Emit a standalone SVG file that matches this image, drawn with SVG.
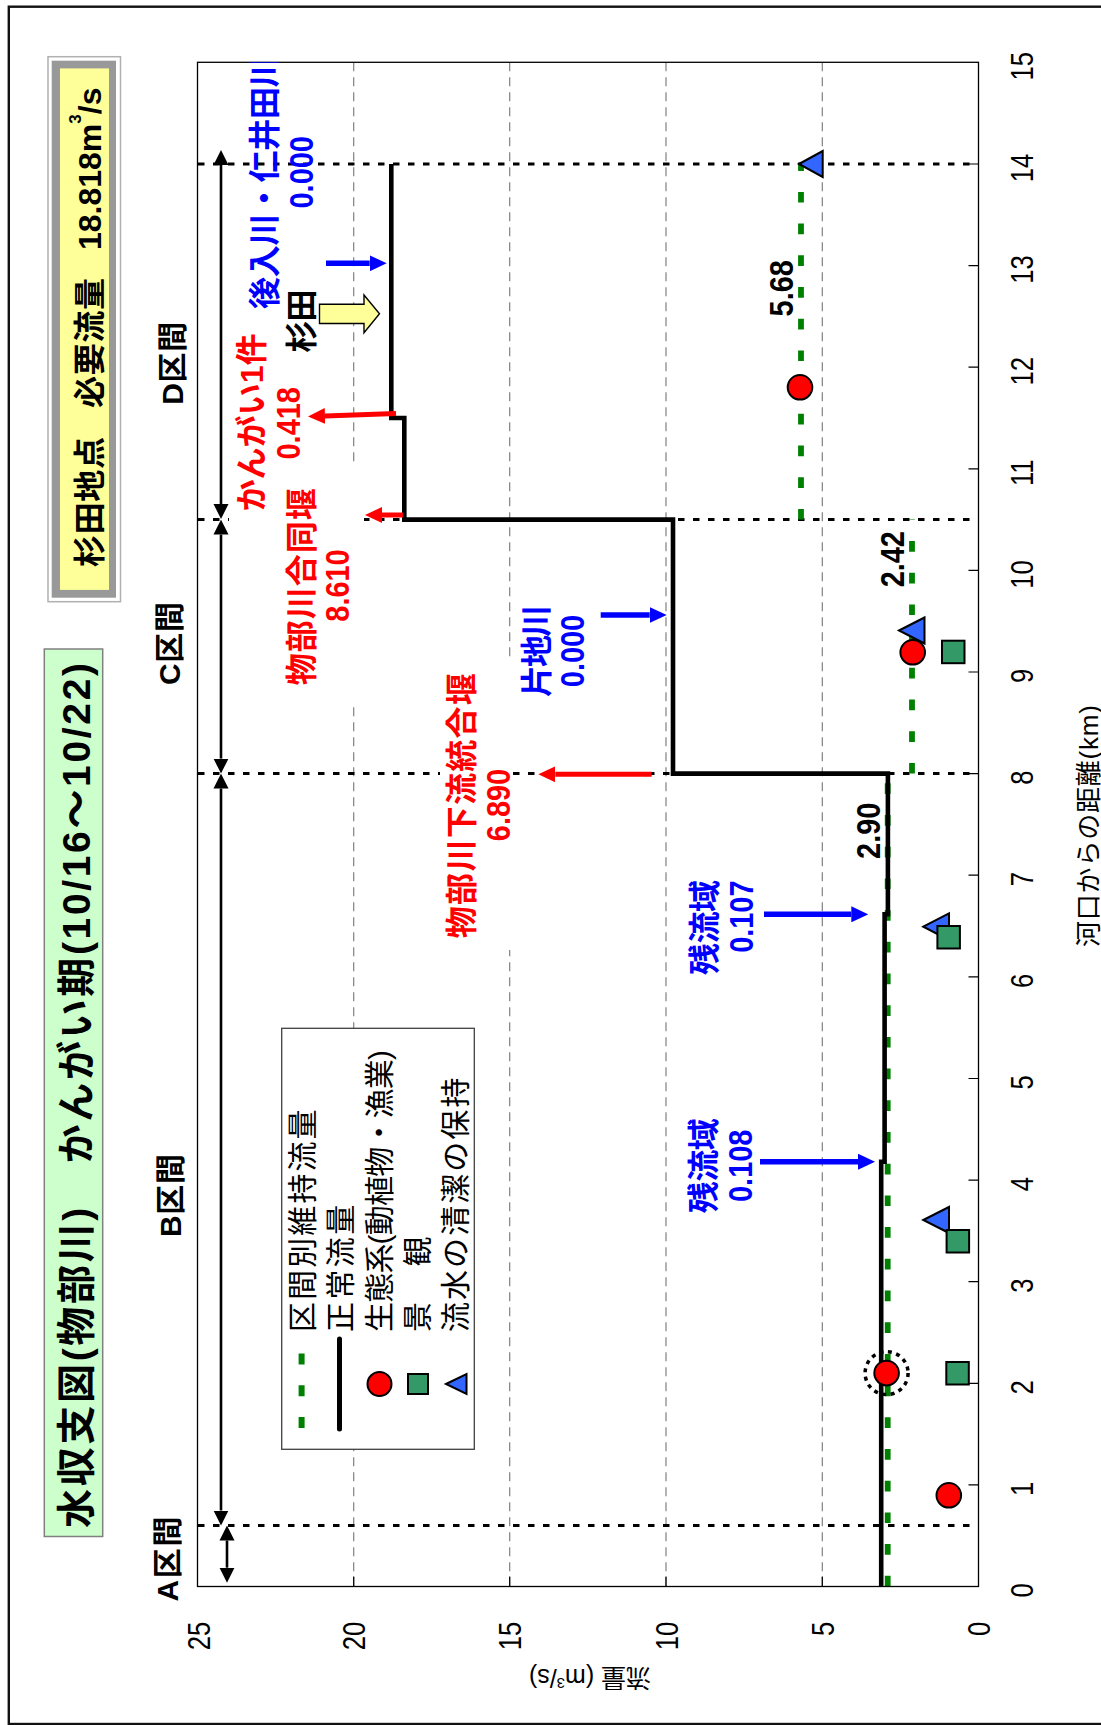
<svg xmlns="http://www.w3.org/2000/svg" width="1101" height="1725" viewBox="0 0 1101 1725">
<style>
text{font-family:'Liberation Sans','Noto Sans CJK JP',sans-serif;}
.b{font-weight:bold;}
.red{fill:#FF0000;}
.blue{fill:#0000FF;}
.blk{fill:#000;}
.c32{font-size:32px;}
.num{font-size:34px;}
.sec{font-size:30px;font-weight:bold;}
.tick{font-size:32px;}
.leg{font-size:30px;}
.grid{stroke:#808080;stroke-width:1.2;stroke-dasharray:9 6;fill:none;}
.bnd{stroke:#000;stroke-width:3;stroke-dasharray:6.5 8.5;fill:none;}
.green{stroke:#008000;stroke-width:5.8;stroke-dasharray:10.7 21;fill:none;}
.secarr{stroke:#000;stroke-width:2.6;fill:none;marker-start:url(#ahK);marker-end:url(#ahK);}
.rarr{stroke:#FF0000;stroke-width:5;fill:none;marker-end:url(#ahR);}
.barr{stroke:#0000FF;stroke-width:5.5;fill:none;marker-end:url(#ahB);}
.circ{fill:#FF0000;stroke:#000;stroke-width:2;}
.sq{fill:#339966;stroke:#000;stroke-width:2;}
.tri{fill:#3366FF;stroke:#000;stroke-width:2;}
.box{fill:#fff;stroke:none;}
</style>
<defs>
<marker id="ahR" markerUnits="userSpaceOnUse" viewBox="0 -8 17 16" markerWidth="17" markerHeight="16" refX="0" refY="0" orient="auto"><path d="M0,-8 L17,0 L0,8 z" fill="#FF0000"/></marker>
<marker id="ahB" markerUnits="userSpaceOnUse" viewBox="0 -8 17 16" markerWidth="17" markerHeight="16" refX="0" refY="0" orient="auto"><path d="M0,-8 L17,0 L0,8 z" fill="#0000FF"/></marker>
<marker id="ahK" markerUnits="userSpaceOnUse" viewBox="0 -8 15 16" markerWidth="15" markerHeight="16" refX="0" refY="0" orient="auto-start-reverse"><path d="M0,-7.5 L15,0 L0,7.5 z" fill="#000"/></marker>
<clipPath id="plotclip"><rect x="197.5" y="62.3" width="781" height="1524.2"/></clipPath>
</defs>

<rect x="0" y="0" width="1101" height="1725" fill="#fff"/>
<rect id="frame" x="8.8" y="6.7" width="1100" height="1717.3" fill="none" stroke="#111" stroke-width="2.4"/>

<g id="yellow-box">
<rect x="48" y="56.7" width="72.5" height="545" fill="#fff" stroke="#b0b0b0" stroke-width="1.5"/>
<rect x="51.7" y="60.7" width="64.3" height="537" fill="#999"/>
<rect x="60" y="68.4" width="49" height="521.5" fill="#FFFF99"/>
<text class="b blk" font-size="32" transform="translate(100.5,567) rotate(-90)"><tspan x="0" textLength="130" lengthAdjust="spacing">杉田地点</tspan><tspan x="159" textLength="130" lengthAdjust="spacing">必要流量</tspan><tspan x="317">18.818m<tspan dy="-20" font-size="17">3</tspan><tspan dy="20">/s</tspan></tspan></text>
</g>

<g id="title-box">
<rect x="44.3" y="649" width="58.4" height="887.5" fill="#CCFFCC" stroke="#808080" stroke-width="1.5"/>
<text class="b blk" font-size="39" transform="translate(90,1528) rotate(-90)" textLength="865" lengthAdjust="spacing">水収支図(物部川)　かんがい期(10/16～10/22)</text>
</g>

<g id="plot">
<rect x="197.5" y="62.3" width="781" height="1524.2" fill="#fff"/>
<g id="gridlines">
<path class="grid" d="M353.7,62.3 V1586.5 M509.7,62.3 V1586.5 M666,62.3 V1586.5 M822.3,62.3 V1586.5"/>
</g>
<g id="section-boundaries">
<path class="bnd" d="M198,164 H978.5 M198,519.6 H978.5 M198,773.6 H978.5 M198,1525.5 H978.5"/>
</g>
<g id="maintenance-flow">
<path class="green" d="M887.7,1586.5 V773.6"/>
<path class="green" d="M912,773.6 V519.6"/>
<path class="green" d="M801,519.6 V164"/>
</g>
<g id="label-boxes">
<rect class="box" x="229" y="325" width="78" height="202"/>
<rect class="box" x="278" y="466.5" width="86" height="240.5"/>
<rect class="box" x="440" y="660" width="73" height="290"/>
</g>
<rect x="197.5" y="62.3" width="781" height="1524.2" fill="none" stroke="#000" stroke-width="1.3"/>
<g id="ticks" stroke="#000" stroke-width="1.2">
<path d="M968.5,1484.9 H978.5 M968.5,1383.3 H978.5 M968.5,1281.7 H978.5 M968.5,1180.1 H978.5 M968.5,1078.5 H978.5 M968.5,976.8 H978.5 M968.5,875.2 H978.5 M968.5,773.6 H978.5 M968.5,672 H978.5 M968.5,570.4 H978.5 M968.5,468.8 H978.5 M968.5,367.2 H978.5 M968.5,265.6 H978.5 M968.5,164 H978.5"/>
<path d="M353.7,1576.5 V1586.5 M509.7,1576.5 V1586.5 M666,1576.5 V1586.5 M822.3,1576.5 V1586.5"/>
</g>
<g id="distance-labels" class="tick blk">
<text transform="translate(1033.3,1590.5) rotate(-90) scale(0.8,1)" text-anchor="middle">0</text>
<text transform="translate(1033.3,1488.9) rotate(-90) scale(0.8,1)" text-anchor="middle">1</text>
<text transform="translate(1033.3,1387.3) rotate(-90) scale(0.8,1)" text-anchor="middle">2</text>
<text transform="translate(1033.3,1285.7) rotate(-90) scale(0.8,1)" text-anchor="middle">3</text>
<text transform="translate(1033.3,1184.1) rotate(-90) scale(0.8,1)" text-anchor="middle">4</text>
<text transform="translate(1033.3,1082.5) rotate(-90) scale(0.8,1)" text-anchor="middle">5</text>
<text transform="translate(1033.3,980.8) rotate(-90) scale(0.8,1)" text-anchor="middle">6</text>
<text transform="translate(1033.3,879.2) rotate(-90) scale(0.8,1)" text-anchor="middle">7</text>
<text transform="translate(1033.3,777.6) rotate(-90) scale(0.8,1)" text-anchor="middle">8</text>
<text transform="translate(1033.3,676) rotate(-90) scale(0.8,1)" text-anchor="middle">9</text>
<text transform="translate(1033.3,574.4) rotate(-90) scale(0.8,1)" text-anchor="middle">10</text>
<text transform="translate(1033.3,472.8) rotate(-90) scale(0.8,1)" text-anchor="middle">11</text>
<text transform="translate(1033.3,371.2) rotate(-90) scale(0.8,1)" text-anchor="middle">12</text>
<text transform="translate(1033.3,269.6) rotate(-90) scale(0.8,1)" text-anchor="middle">13</text>
<text transform="translate(1033.3,168) rotate(-90) scale(0.8,1)" text-anchor="middle">14</text>
<text transform="translate(1033.3,66.3) rotate(-90) scale(0.8,1)" text-anchor="middle">15</text>
</g>
<g id="flow-labels" class="tick blk">
<text transform="translate(209.5,1621.7) rotate(-90) scale(0.8,1)" text-anchor="end">25</text>
<text transform="translate(365.2,1621.7) rotate(-90) scale(0.8,1)" text-anchor="end">20</text>
<text transform="translate(521.2,1621.7) rotate(-90) scale(0.8,1)" text-anchor="end">15</text>
<text transform="translate(677.5,1621.7) rotate(-90) scale(0.8,1)" text-anchor="end">10</text>
<text transform="translate(833.8,1621.7) rotate(-90) scale(0.8,1)" text-anchor="end">5</text>
<text transform="translate(990,1621.7) rotate(-90) scale(0.8,1)" text-anchor="end">0</text>
</g>
<text id="x-title" class="blk" font-size="26" transform="translate(1098,826) rotate(-90)" text-anchor="middle" textLength="242" lengthAdjust="spacing">河口からの距離(km)</text>
<text id="y-title" class="blk" font-size="25" transform="translate(590,1669) rotate(180)" text-anchor="middle">流量 (m<tspan dy="-9" font-size="15">3</tspan><tspan dy="9">/s)</tspan></text>
</g>

<g id="connectors">
<path id="normal-flow" d="M391.3,164 V418 H404.3 V519.6 H673 V773.6 H887.9 V914.3 H884.6 V1161.7 H881.2 V1586.5" fill="none" stroke="#000" stroke-width="4.6"/>
<path class="secarr" d="M221,165 V504"/>
<path class="secarr" d="M221,534.6 V758.6"/>
<path class="secarr" d="M221,788.6 V1510.5"/>
<path class="secarr" d="M227,1540.5 V1567.7"/>
<path class="rarr" d="M396,413.5 L325,416"/>
<path class="rarr" d="M403,515 L382,515"/>
<path class="rarr" d="M651.7,774.3 L555.3,774.3"/>
<path class="barr" d="M326,263.3 L369.7,263.3"/>
<path class="barr" d="M600.7,615 L649.7,615"/>
<path class="barr" d="M764,914.3 L851.3,914.3"/>
<path class="barr" d="M760,1161.7 L858,1161.7"/>
<path id="sugita-arrow" d="M319.5,304.3 H364 V295 L379.5,313.7 L364,332.7 V323.5 H319.5 Z" fill="#FFFF99" stroke="#000" stroke-width="1.4"/>
</g>

<g id="markers">
<polygon class="tri" points="799,164 822.7,151 822.7,177"/>
<polygon class="tri" points="899,630.5 924.5,617.5 924.5,643.5"/>
<polygon class="tri" points="923.3,926.7 949,913.4 949,940"/>
<polygon class="tri" points="923.3,1220 949,1207 949,1233"/>
<rect class="sq" x="942" y="640.7" width="22.5" height="22.5"/>
<rect class="sq" x="937.4" y="926" width="22.5" height="22.5"/>
<rect class="sq" x="946.6" y="1230" width="22.5" height="22.5"/>
<rect class="sq" x="946.3" y="1362" width="22.5" height="22.5"/>
<circle class="circ" cx="800" cy="387.3" r="12.3"/>
<circle class="circ" cx="912.7" cy="652.3" r="12.3"/>
<circle class="circ" cx="886.6" cy="1373.1" r="12.3"/>
<circle cx="886.6" cy="1373.1" r="21.5" fill="none" stroke="#000" stroke-width="3.5" stroke-dasharray="4 4.5"/>
<circle class="circ" cx="948.8" cy="1495.3" r="12.3"/>
</g>

<g id="section-labels" class="blk">
<text class="sec" transform="translate(183.3,363.3) rotate(-90)" text-anchor="middle" textLength="83" lengthAdjust="spacing">D区間</text>
<text class="sec" transform="translate(180,643.5) rotate(-90)" text-anchor="middle" textLength="83" lengthAdjust="spacing">C区間</text>
<text class="sec" transform="translate(181,1195.5) rotate(-90)" text-anchor="middle" textLength="83" lengthAdjust="spacing">B区間</text>
<text class="sec" transform="translate(178,1559) rotate(-90)" text-anchor="middle" textLength="85" lengthAdjust="spacing">A区間</text>
</g>

<g id="node-ushiro" clip-path="url(#plotclip)">
<text class="b blue c32" transform="translate(276,309) rotate(-90)" textLength="253.6" lengthAdjust="spacing">後入川・仁井田川</text>
</g>
<g id="node-ushiro-val"><text class="b blue num" transform="translate(313.3,172.3) rotate(-90) scale(0.85,1)" text-anchor="middle">0.000</text></g>
<g id="node-sugita"><text class="b blk c32" transform="translate(312.8,321) rotate(-90)" text-anchor="middle" textLength="63" lengthAdjust="spacing">杉田</text></g>
<g id="node-kangai">
<text class="b red c32" transform="translate(262.8,422.5) rotate(-90)" text-anchor="middle" textLength="178" lengthAdjust="spacing">かんがい1件</text>
<text class="b red num" transform="translate(300,423.3) rotate(-90) scale(0.85,1)" text-anchor="middle">0.418</text>
</g>
<g id="node-godo">
<text class="b red c32" transform="translate(312.8,586.7) rotate(-90)" text-anchor="middle" textLength="197" lengthAdjust="spacing">物部川合同堰</text>
<text class="b red num" transform="translate(349.3,585.5) rotate(-90) scale(0.85,1)" text-anchor="middle">8.610</text>
</g>
<g id="node-karyu">
<text class="b red c32" transform="translate(472.8,805.7) rotate(-90)" text-anchor="middle" textLength="265" lengthAdjust="spacing">物部川下流統合堰</text>
<text class="b red num" transform="translate(510,805) rotate(-90) scale(0.85,1)" text-anchor="middle">6.890</text>
</g>
<g id="node-katachi">
<text class="b blue c32" transform="translate(547.8,651) rotate(-90)" text-anchor="middle" textLength="92" lengthAdjust="spacing">片地川</text>
<text class="b blue num" transform="translate(584,651) rotate(-90) scale(0.85,1)" text-anchor="middle">0.000</text>
</g>
<g id="node-zanryu1">
<text class="b blue c32" transform="translate(716,927.5) rotate(-90)" text-anchor="middle" textLength="95" lengthAdjust="spacing">残流域</text>
<text class="b blue num" transform="translate(753.3,916.7) rotate(-90) scale(0.85,1)" text-anchor="middle">0.107</text>
</g>
<g id="node-zanryu2">
<text class="b blue c32" transform="translate(714.8,1165.8) rotate(-90)" text-anchor="middle" textLength="95" lengthAdjust="spacing">残流域</text>
<text class="b blue num" transform="translate(752,1165.8) rotate(-90) scale(0.85,1)" text-anchor="middle">0.108</text>
</g>
<g id="value-labels" class="b blk num">
<text transform="translate(880,830.8) rotate(-90) scale(0.85,1)" text-anchor="middle">2.90</text>
<text transform="translate(904,559.2) rotate(-90) scale(0.85,1)" text-anchor="middle">2.42</text>
<text transform="translate(792.7,288.3) rotate(-90) scale(0.85,1)" text-anchor="middle">5.68</text>
</g>

<g id="legend">
<rect x="281.7" y="1028.3" width="192.6" height="421" fill="#fff" stroke="#404040" stroke-width="1.3"/>
<path d="M301.6,1428 V1353" stroke="#008000" stroke-width="6" stroke-dasharray="11 20.7" fill="none"/>
<path d="M339.5,1339 V1429" stroke="#000" stroke-width="5" stroke-linecap="round" fill="none"/>
<circle class="circ" cx="379.5" cy="1384" r="12"/>
<rect class="sq" x="408" y="1374" width="20" height="20"/>
<polygon class="tri" points="446,1384 466.5,1374 466.5,1394"/>
<text class="leg blk" transform="translate(313,1332) rotate(-90)" textLength="222.6" lengthAdjust="spacing">区間別維持流量</text>
<text class="leg blk" transform="translate(351.3,1332) rotate(-90)" textLength="127.2" lengthAdjust="spacing">正常流量</text>
<text class="leg blk" transform="translate(389.6,1332) rotate(-90)" textLength="282" lengthAdjust="spacing">生態系(動植物・漁業)</text>
<text class="leg blk" transform="translate(427.9,1332) rotate(-90)" textLength="95.4" lengthAdjust="spacing">景　観</text>
<text class="leg blk" transform="translate(466.2,1332) rotate(-90)" textLength="254.4" lengthAdjust="spacing">流水の清潔の保持</text>
</g>
</svg>
